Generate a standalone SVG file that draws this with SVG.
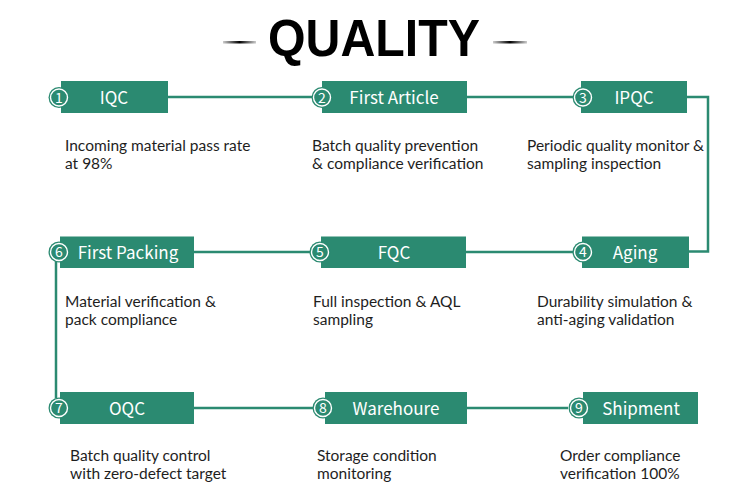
<svg xmlns="http://www.w3.org/2000/svg" width="750" height="502" viewBox="0 0 750 502">
<defs>
<linearGradient id="dash" x1="0" x2="1" y1="0" y2="0">
<stop offset="0" stop-color="#000" stop-opacity="0.2"/>
<stop offset="0.5" stop-color="#000"/>
<stop offset="1" stop-color="#000" stop-opacity="0.2"/>
</linearGradient>
</defs>
<style>
.box{fill:#2b8a71}
.lbl{font-family:"Noto Sans CJK SC","Noto Sans",sans-serif;font-size:17px;fill:#fff;text-anchor:middle}
.disc{fill:#2b8a71}
.ring{fill:none;stroke:#fff;stroke-width:1.4}
.num{font-family:"Noto Sans CJK SC","Noto Sans",sans-serif;font-size:14px;fill:#fff;text-anchor:middle}
.desc{font-family:Lato,"Noto Sans",sans-serif;font-size:15.5px;fill:#1e1e1e}
.conn{fill:none;stroke:#2b8a71;stroke-width:2.5}
</style>
<rect width="750" height="502" fill="#fff"/>
<g id="title">
<rect x="223" y="41" width="33" height="2.5" fill="url(#dash)"/>
<rect x="493" y="41" width="34" height="2.5" fill="url(#dash)"/>
<text x="374" y="56" font-family="Liberation Sans, Arial, sans-serif" font-weight="bold" font-size="52" text-anchor="middle" textLength="212" lengthAdjust="spacingAndGlyphs" fill="#000">QUALITY</text>
</g>
<g id="connectors">
<line class="conn" x1="168" y1="97" x2="312" y2="97"/>
<line class="conn" x1="467" y1="97" x2="573" y2="97"/>
<polyline class="conn" points="687,97 708,97 708,251.5 689,251.5"/>
<line class="conn" x1="466" y1="252" x2="573" y2="252"/>
<line class="conn" x1="194" y1="252" x2="310" y2="252"/>
<line class="conn" x1="56" y1="262" x2="56" y2="398"/>
<line class="conn" x1="194" y1="408" x2="313" y2="408"/>
<line class="conn" x1="467" y1="408" x2="568" y2="408"/>
</g>
<g id="n1">
<rect class="box" x="61" y="81" width="107" height="32"/>
<circle class="disc" cx="59" cy="97.5" r="10.5"/><circle class="ring" cx="59" cy="97.5" r="8.5"/>
<text class="num" x="59" y="102.5">1</text>
<text class="lbl" x="114" y="103.5">IQC</text>
<text class="desc" x="65" y="150.5">Incoming material pass rate<tspan x="65" dy="18.7">at 98%</tspan></text>
</g>
<g id="n2">
<rect class="box" x="322" y="81" width="145" height="32"/>
<circle class="disc" cx="322" cy="97.5" r="10.5"/><circle class="ring" cx="322" cy="97.5" r="8.5"/>
<text class="num" x="322" y="102.5">2</text>
<text class="lbl" x="394" y="103.5">First Article</text>
<text class="desc" x="312" y="150.5">Batch quality prevention<tspan x="312" dy="18.7">&amp; compliance verification</tspan></text>
</g>
<g id="n3">
<rect class="box" x="581" y="81" width="106" height="32"/>
<circle class="disc" cx="583" cy="97.5" r="10.5"/><circle class="ring" cx="583" cy="97.5" r="8.5"/>
<text class="num" x="583" y="102.5">3</text>
<text class="lbl" x="634" y="103.5">IPQC</text>
<text class="desc" x="527" y="150.5">Periodic quality monitor &amp;<tspan x="527" dy="18.7">sampling inspection</tspan></text>
</g>
<g id="n4">
<rect class="box" x="582" y="236.5" width="107" height="31.5"/>
<circle class="disc" cx="583" cy="252" r="10.5"/><circle class="ring" cx="583" cy="252" r="8.5"/>
<text class="num" x="583" y="257">4</text>
<text class="lbl" x="635" y="258.5">Aging</text>
<text class="desc" x="537" y="306.5">Durability simulation &amp;<tspan x="537" dy="18.7">anti-aging validation</tspan></text>
</g>
<g id="n5">
<rect class="box" x="321" y="236.5" width="145" height="31.5"/>
<circle class="disc" cx="320" cy="252" r="10.5"/><circle class="ring" cx="320" cy="252" r="8.5"/>
<text class="num" x="320" y="257">5</text>
<text class="lbl" x="394" y="258.5">FQC</text>
<text class="desc" x="313" y="306.5">Full inspection &amp; AQL<tspan x="313" dy="18.7">sampling</tspan></text>
</g>
<g id="n6">
<rect class="box" x="60" y="236.5" width="134" height="31.5"/>
<circle class="disc" cx="59" cy="252" r="10.5"/><circle class="ring" cx="59" cy="252" r="8.5"/>
<text class="num" x="59" y="257">6</text>
<text class="lbl" x="128" y="258.5">First Packing</text>
<text class="desc" x="65" y="306.5">Material verification &amp;<tspan x="65" dy="18.7">pack compliance</tspan></text>
</g>
<g id="n7">
<rect class="box" x="60" y="392" width="134" height="32"/>
<circle class="disc" cx="59" cy="408" r="10.5"/><circle class="ring" cx="59" cy="408" r="8.5"/>
<text class="num" x="59" y="413">7</text>
<text class="lbl" x="127" y="414.5">OQC</text>
<text class="desc" x="70" y="460.5">Batch quality control<tspan x="70" dy="18.7">with zero-defect target</tspan></text>
</g>
<g id="n8">
<rect class="box" x="325" y="392" width="142" height="32"/>
<circle class="disc" cx="323" cy="408" r="10.5"/><circle class="ring" cx="323" cy="408" r="8.5"/>
<text class="num" x="323" y="413">8</text>
<text class="lbl" x="396" y="414.5">Warehoure</text>
<text class="desc" x="317" y="460.5">Storage condition<tspan x="317" dy="18.7">monitoring</tspan></text>
</g>
<g id="n9">
<rect class="box" x="583" y="392" width="115" height="32"/>
<circle class="disc" cx="579" cy="408" r="10.5"/><circle class="ring" cx="579" cy="408" r="8.5"/>
<text class="num" x="579" y="413">9</text>
<text class="lbl" x="641" y="414.5">Shipment</text>
<text class="desc" x="560" y="460.5">Order compliance<tspan x="560" dy="18.7">verification 100%</tspan></text>
</g>
</svg>
